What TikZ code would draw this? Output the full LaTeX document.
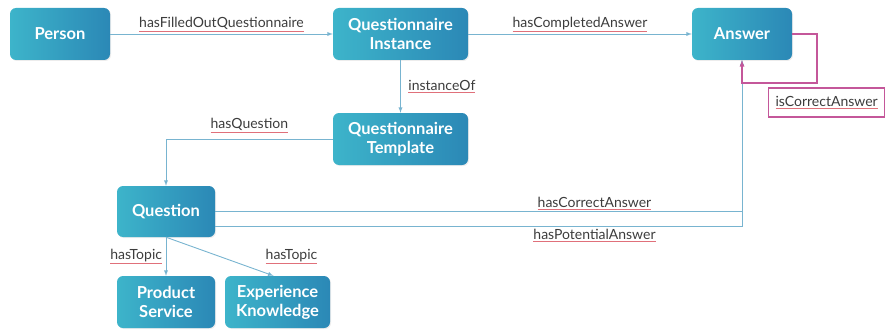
\documentclass[tikz,border=0pt]{standalone}
\usepackage{fontspec}
\setmainfont{Lato}
\usepackage{tikz}
\usetikzlibrary{shadows}

\definecolor{boxleft}{HTML}{3DB4CA}
\definecolor{boxright}{HTML}{2B88B6}
\definecolor{linkblue}{HTML}{78B4D0}
\definecolor{loopmag}{HTML}{C4579A}
\definecolor{labelgray}{HTML}{3C3C3C}
\definecolor{spellred}{HTML}{E0707A}

\newcommand{\spell}[1]{\textcolor{spellred}{\underline{\textcolor{labelgray}{#1}}}}

\tikzset{
  cls/.style={rounded corners=6pt, left color=boxleft, right color=boxright,
    text=white, font=\bfseries\fontsize{16.5}{19}\selectfont, align=center,
    minimum height=52pt, inner sep=2pt,
    drop shadow={opacity=0.15, shadow xshift=1pt, shadow yshift=-1pt}},
  link/.style={draw=linkblue, line width=0.9pt, -latex},
  lbl/.style={font=\fontsize{14}{15}\selectfont, text=labelgray, inner sep=1.5pt}
}

\begin{document}
\begin{tikzpicture}[x=1pt, y=1pt]
				\useasboundingbox (0,0) rectangle (885,330);
				%classes
				\node[cls, minimum width=100pt] (person) at (60,296) {Person};
				\node[cls, minimum width=135pt] (inst) at (400.5,296) {Questionnaire\\Instance};
				\node[cls, minimum width=100pt] (answer) at (742,296) {Answer};
				\node[cls, minimum width=135pt] (tmpl) at (400.5,191) {Questionnaire\\Template};
				\node[cls, minimum width=98pt, minimum height=51pt] (question) at (166,118.5) {Question};
				\node[cls, minimum width=98pt] (product) at (166,28) {Product\\Service};
				\node[cls, minimum width=105pt] (exper) at (277.5,28) {Experience\\Knowledge};
				%top row
				\draw[link] (person) -- node[lbl, midway, above]{\spell{hasFilledOutQuestionnaire}} (inst);
				\draw[link] (inst) -- node[lbl, midway, above]{\spell{hasCompletedAnswer}} (answer);
				\draw[link] (inst) -- node[lbl, midway, right=6pt]{\spell{instanceOf}} (tmpl);
				%template to question
				\draw[link] (tmpl.west) -| node[lbl, pos=0.25, above=4pt]{\spell{hasQuestion}} (question.north);
				%answers of a question
				\draw[link] (question.east) -| node[lbl, pos=0.36, above]{\spell{hasCorrectAnswer}} (answer.south);
				\draw[link] ([yshift=-15pt]question.east) -| node[lbl, pos=0.36, below=1pt]{\spell{hasPotentialAnswer}} (answer.south);
				%topics
				\draw[link] (question.south) -- node[lbl, midway, left=2pt]{\spell{hasTopic}} (product.north);
				\draw[link] (question.south) -- node[lbl, midway, right=44pt]{\spell{hasTopic}} ([xshift=-4pt]exper.north);
				%self loop on answer
				\coordinate (loopc) at (817,247);
				\draw[color=loopmag, line width=1.2pt, -latex] (answer.east) -| (loopc) -| (answer.south);
				\node[lbl, draw=loopmag, line width=1.4pt, anchor=west, minimum width=116pt, minimum height=29pt] (iscorr) at (768,227.5) {\spell{isCorrectAnswer}};
			\end{tikzpicture}
\end{document}
